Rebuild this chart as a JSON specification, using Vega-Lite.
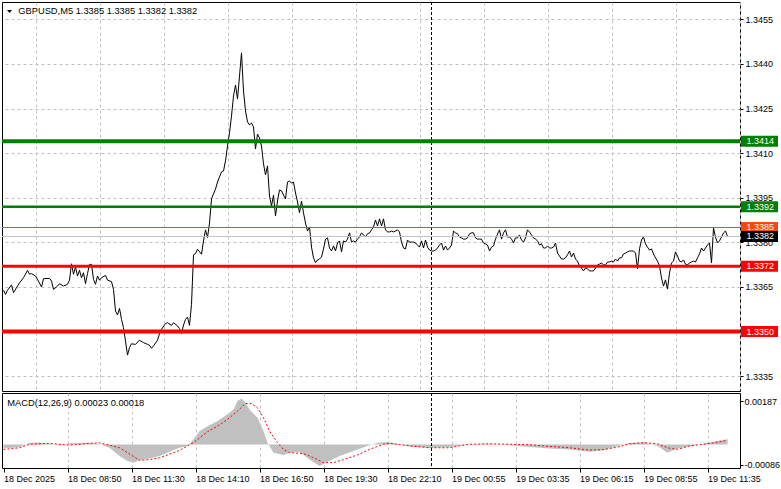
{
  "$schema": "https://vega.github.io/schema/vega-lite/v6.json",
  "padding": {"left": -1, "top": 1, "right": 0, "bottom": 0},
  "background": "#ffffff",
  "spacing": 0,
  "resolve": {"scale": {"x": "independent"}, "axis": {"x": "independent"}},
  "config": {
    "view": {"stroke": "#000000", "strokeWidth": 1},
    "font": "Liberation Sans",
    "axis": {"labelFont": "Liberation Sans", "labelFontSize": 9, "labelColor": "#000000", "tickColor": "#000000", "gridColor": "#c0c0c0", "gridDash": [3, 3], "domain": false, "title": null, "labelOverlap": false, "labelFlush": false}
  },
  "datasets": {
    "price": [
      {"bar":0,"close":1.33639},{"bar":1,"close":1.33625},{"bar":2,"close":1.33639},{"bar":4,"close":1.33657},{"bar":5,"close":1.33631},{"bar":7,"close":1.33653},{"bar":8,"close":1.33664},{"bar":10,"close":1.33681},{"bar":11,"close":1.33693},{"bar":12,"close":1.33706},{"bar":13,"close":1.33693},{"bar":14,"close":1.33695},{"bar":16,"close":1.33687},{"bar":17,"close":1.33676},{"bar":19,"close":1.3365},{"bar":20,"close":1.33678},{"bar":23,"close":1.33679},{"bar":24,"close":1.3367},{"bar":25,"close":1.33642},{"bar":27,"close":1.33653},{"bar":28,"close":1.33661},{"bar":30,"close":1.33653},{"bar":32,"close":1.33659},{"bar":33,"close":1.33673},{"bar":34,"close":1.33728},{"bar":35,"close":1.33693},{"bar":36,"close":1.33717},{"bar":37,"close":1.33687},{"bar":38,"close":1.33706},{"bar":39,"close":1.33681},{"bar":40,"close":1.33698},{"bar":41,"close":1.33661},{"bar":42,"close":1.33695},{"bar":43,"close":1.33726},{"bar":44,"close":1.33726},{"bar":45,"close":1.33676},{"bar":46,"close":1.33659},{"bar":47,"close":1.33687},{"bar":48,"close":1.33673},{"bar":49,"close":1.33681},{"bar":51,"close":1.33689},{"bar":52,"close":1.33673},{"bar":54,"close":1.33668},{"bar":55,"close":1.33642},{"bar":56,"close":1.33569},{"bar":57,"close":1.33556},{"bar":58,"close":1.33578},{"bar":59,"close":1.33541},{"bar":60,"close":1.33513},{"bar":61,"close":1.33468},{"bar":62,"close":1.33421},{"bar":63,"close":1.33446},{"bar":64,"close":1.33459},{"bar":66,"close":1.33457},{"bar":68,"close":1.33471},{"bar":70,"close":1.33463},{"bar":72,"close":1.33457},{"bar":73,"close":1.33454},{"bar":74,"close":1.33444},{"bar":75,"close":1.33452},{"bar":77,"close":1.33471},{"bar":78,"close":1.33493},{"bar":79,"close":1.33508},{"bar":81,"close":1.33527},{"bar":82,"close":1.3353},{"bar":84,"close":1.33521},{"bar":85,"close":1.3353},{"bar":87,"close":1.33519},{"bar":88,"close":1.3351},{"bar":89,"close":1.33493},{"bar":90,"close":1.33522},{"bar":91,"close":1.33541},{"bar":92,"close":1.33549},{"bar":93,"close":1.33521},{"bar":94,"close":1.33592},{"bar":95,"close":1.33758},{"bar":96,"close":1.33762},{"bar":97,"close":1.33777},{"bar":99,"close":1.3376},
      {"bar":100,"close":1.33805},{"bar":101,"close":1.33842},{"bar":102,"close":1.33816},{"bar":103,"close":1.33865},{"bar":104,"close":1.33946},{"bar":105,"close":1.33963},{"bar":106,"close":1.33979},{"bar":107,"close":1.34003},{"bar":108,"close":1.3402},{"bar":109,"close":1.34037},{"bar":110,"close":1.3404},{"bar":111,"close":1.34074},{"bar":112,"close":1.34124},{"bar":113,"close":1.34168},{"bar":114,"close":1.34225},{"bar":115,"close":1.34292},{"bar":116,"close":1.34329},{"bar":117,"close":1.34282},{"bar":118,"close":1.34359},{"bar":119,"close":1.34437},{"bar":120,"close":1.34309},{"bar":121,"close":1.34242},{"bar":122,"close":1.34205},{"bar":123,"close":1.34195},{"bar":124,"close":1.34201},{"bar":125,"close":1.34188},{"bar":126,"close":1.34114},{"bar":127,"close":1.34164},{"bar":128,"close":1.34151},{"bar":129,"close":1.34124},{"bar":130,"close":1.34064},{"bar":131,"close":1.34027},{"bar":132,"close":1.34057},{"bar":133,"close":1.33956},{"bar":134,"close":1.33922},{"bar":135,"close":1.33959},{"bar":136,"close":1.33889},{"bar":137,"close":1.33939},{"bar":138,"close":1.33976},{"bar":139,"close":1.33973},{"bar":140,"close":1.33959},{"bar":141,"close":1.33946},{"bar":142,"close":1.34003},{"bar":143,"close":1.34006},{"bar":144,"close":1.34},{"bar":145,"close":1.34003},{"bar":146,"close":1.33966},{"bar":147,"close":1.33936},{"bar":148,"close":1.33899},{"bar":149,"close":1.33939},{"bar":150,"close":1.33899},{"bar":151,"close":1.33865},{"bar":152,"close":1.33838},{"bar":153,"close":1.33852},{"bar":154,"close":1.33784},{"bar":155,"close":1.33748},{"bar":156,"close":1.33732},{"bar":157,"close":1.33741},{"bar":158,"close":1.33744},{"bar":159,"close":1.33751},{"bar":160,"close":1.33778},{"bar":161,"close":1.33811},{"bar":162,"close":1.33815},{"bar":163,"close":1.33781},{"bar":164,"close":1.33771},{"bar":165,"close":1.33788},{"bar":166,"close":1.33771},{"bar":167,"close":1.33798},{"bar":168,"close":1.33805},{"bar":169,"close":1.33768},{"bar":170,"close":1.33805},{"bar":171,"close":1.33801},{"bar":172,"close":1.33811},{"bar":173,"close":1.33832},{"bar":174,"close":1.33801},{"bar":175,"close":1.33805},{"bar":176,"close":1.33801},{"bar":177,"close":1.33811},{"bar":178,"close":1.33818},{"bar":179,"close":1.33832},{"bar":180,"close":1.33825},{"bar":181,"close":1.33818},{"bar":182,"close":1.33829},{"bar":183,"close":1.33832},{"bar":184,"close":1.33842},{"bar":185,"close":1.33852},{"bar":186,"close":1.33875},{"bar":187,"close":1.33855},{"bar":188,"close":1.33879},{"bar":189,"close":1.33855},{"bar":190,"close":1.33879},{"bar":191,"close":1.33842},{"bar":192,"close":1.33835},{"bar":193,"close":1.33835},{"bar":194,"close":1.33838},{"bar":195,"close":1.33835},{"bar":196,"close":1.33838},{"bar":197,"close":1.33842},{"bar":198,"close":1.33835},{"bar":199,"close":1.33801},
      {"bar":200,"close":1.33781},{"bar":201,"close":1.33778},{"bar":202,"close":1.33808},{"bar":203,"close":1.33801},{"bar":204,"close":1.33801},{"bar":205,"close":1.33801},{"bar":206,"close":1.33798},{"bar":207,"close":1.33791},{"bar":208,"close":1.33784},{"bar":209,"close":1.33805},{"bar":210,"close":1.33781},{"bar":211,"close":1.33808},{"bar":212,"close":1.33784},{"bar":213,"close":1.33774},{"bar":214,"close":1.33771},{"bar":215,"close":1.33771},{"bar":216,"close":1.33774},{"bar":217,"close":1.33781},{"bar":218,"close":1.33791},{"bar":219,"close":1.33798},{"bar":220,"close":1.33774},{"bar":221,"close":1.33788},{"bar":222,"close":1.33774},{"bar":223,"close":1.33781},{"bar":224,"close":1.33791},{"bar":225,"close":1.33838},{"bar":226,"close":1.33832},{"bar":227,"close":1.33829},{"bar":228,"close":1.33818},{"bar":229,"close":1.33815},{"bar":230,"close":1.33811},{"bar":231,"close":1.33811},{"bar":232,"close":1.33815},{"bar":233,"close":1.33829},{"bar":234,"close":1.33832},{"bar":235,"close":1.33832},{"bar":236,"close":1.33815},{"bar":237,"close":1.33811},{"bar":238,"close":1.33811},{"bar":239,"close":1.33811},{"bar":240,"close":1.33798},{"bar":241,"close":1.33795},{"bar":242,"close":1.33791},{"bar":243,"close":1.33771},{"bar":244,"close":1.33784},{"bar":245,"close":1.33788},{"bar":246,"close":1.33811},{"bar":247,"close":1.33828},{"bar":248,"close":1.33842},{"bar":249,"close":1.33811},{"bar":250,"close":1.33832},{"bar":251,"close":1.33842},{"bar":252,"close":1.33818},{"bar":253,"close":1.33818},{"bar":254,"close":1.33811},{"bar":255,"close":1.33798},{"bar":256,"close":1.33815},{"bar":257,"close":1.33815},{"bar":258,"close":1.33825},{"bar":259,"close":1.33808},{"bar":260,"close":1.33801},{"bar":261,"close":1.33815},{"bar":262,"close":1.33842},{"bar":263,"close":1.33835},{"bar":264,"close":1.33825},{"bar":265,"close":1.33815},{"bar":266,"close":1.33811},{"bar":267,"close":1.33805},{"bar":268,"close":1.33791},{"bar":269,"close":1.33795},{"bar":270,"close":1.33781},{"bar":271,"close":1.33781},{"bar":272,"close":1.33788},{"bar":273,"close":1.33781},{"bar":274,"close":1.33781},{"bar":275,"close":1.33784},{"bar":276,"close":1.33798},{"bar":277,"close":1.33764},{"bar":278,"close":1.33754},{"bar":279,"close":1.33744},{"bar":280,"close":1.33744},{"bar":281,"close":1.33748},{"bar":282,"close":1.33758},{"bar":283,"close":1.33771},{"bar":284,"close":1.33751},{"bar":285,"close":1.33764},{"bar":286,"close":1.33744},{"bar":287,"close":1.33737},{"bar":288,"close":1.33721},{"bar":289,"close":1.33714},{"bar":290,"close":1.33704},{"bar":291,"close":1.33714},{"bar":292,"close":1.33711},{"bar":293,"close":1.33704},{"bar":294,"close":1.33704},{"bar":295,"close":1.33704},{"bar":296,"close":1.33714},{"bar":297,"close":1.33724},{"bar":298,"close":1.33727},{"bar":299,"close":1.33731},
      {"bar":300,"close":1.33724},{"bar":301,"close":1.33724},{"bar":302,"close":1.33734},{"bar":303,"close":1.33734},{"bar":304,"close":1.33737},{"bar":305,"close":1.33734},{"bar":306,"close":1.33744},{"bar":307,"close":1.33737},{"bar":308,"close":1.33748},{"bar":309,"close":1.33748},{"bar":310,"close":1.33761},{"bar":311,"close":1.33764},{"bar":312,"close":1.33768},{"bar":313,"close":1.33771},{"bar":314,"close":1.33771},{"bar":315,"close":1.33771},{"bar":316,"close":1.33764},{"bar":317,"close":1.33711},{"bar":318,"close":1.33778},{"bar":319,"close":1.33808},{"bar":320,"close":1.33818},{"bar":321,"close":1.33795},{"bar":322,"close":1.33784},{"bar":323,"close":1.33774},{"bar":324,"close":1.33778},{"bar":325,"close":1.33761},{"bar":326,"close":1.33748},{"bar":327,"close":1.33737},{"bar":328,"close":1.33721},{"bar":329,"close":1.3368},{"bar":330,"close":1.33653},{"bar":331,"close":1.33674},{"bar":332,"close":1.33643},{"bar":333,"close":1.33697},{"bar":334,"close":1.33731},{"bar":335,"close":1.33737},{"bar":336,"close":1.33768},{"bar":337,"close":1.33754},{"bar":338,"close":1.33737},{"bar":339,"close":1.33734},{"bar":340,"close":1.33741},{"bar":341,"close":1.33727},{"bar":342,"close":1.33724},{"bar":343,"close":1.33731},{"bar":344,"close":1.33734},{"bar":345,"close":1.33737},{"bar":346,"close":1.33734},{"bar":347,"close":1.33748},{"bar":348,"close":1.33761},{"bar":349,"close":1.33781},{"bar":350,"close":1.33771},{"bar":351,"close":1.33781},{"bar":352,"close":1.33791},{"bar":353,"close":1.33798},{"bar":354,"close":1.33731},{"bar":355,"close":1.33848},{"bar":356,"close":1.33818},{"bar":357,"close":1.33798},{"bar":358,"close":1.33805},{"bar":359,"close":1.33818},{"bar":360,"close":1.33832},{"bar":361,"close":1.33838},{"bar":362,"close":1.3382}
    ],
    "macd": [
      {"bar":0,"macd":-0.00014},{"bar":3,"macd":-0.00015},{"bar":8,"macd":-0.00011},{"bar":13,"macd":0.00007},{"bar":18,"macd":0.00009},{"bar":23,"macd":0.00003},{"bar":28,"macd":-0.00004},{"bar":33,"macd":0.00005},{"bar":38,"macd":0.00007},{"bar":43,"macd":0.00008},{"bar":48,"macd":0.00001},{"bar":53,"macd":-0.00014},{"bar":58,"macd":-0.00049},{"bar":62,"macd":-0.00071},{"bar":65,"macd":-0.00078},{"bar":68,"macd":-0.00068},{"bar":73,"macd":-0.0006},{"bar":78,"macd":-0.00049},{"bar":83,"macd":-0.00031},{"bar":88,"macd":-0.00014},{"bar":92,"macd":-0.00006},{"bar":95,"macd":0.00022},{"bar":98,"macd":0.00058},{"bar":102,"macd":0.00079},{"bar":107,"macd":0.00101},{"bar":112,"macd":0.0013},{"bar":115,"macd":0.00151},{"bar":117,"macd":0.00187},{"bar":119,"macd":0.00198},{"bar":121,"macd":0.0018},{"bar":123,"macd":0.00151},{"bar":127,"macd":0.00115},{"bar":130,"macd":0.00058},{"bar":132,"macd":0.00008},{"bar":135,"macd":-0.00035},{"bar":140,"macd":-0.00045},{"bar":143,"macd":-0.00035},{"bar":148,"macd":-0.00032},{"bar":153,"macd":-0.00064},{"bar":158,"macd":-0.00092},{"bar":163,"macd":-0.00071},{"bar":168,"macd":-0.00049},{"bar":175,"macd":-0.00028},{"bar":182,"macd":-0.00006},{"bar":187,"macd":0.00008},{"bar":192,"macd":0.00011},{"bar":198,"macd":0.00001},{"bar":203,"macd":-0.00009},{"bar":213,"macd":-0.00014},{"bar":223,"macd":-0.00011},{"bar":233,"macd":0.00001},{"bar":243,"macd":0.00003},{"bar":253,"macd":-0.00003},{"bar":263,"macd":-0.00011},{"bar":273,"macd":-0.00017},{"bar":283,"macd":-0.00021},{"bar":293,"macd":-0.00031},{"bar":300,"macd":-0.00025},{"bar":307,"macd":-0.00006},{"bar":313,"macd":0.00007},{"bar":320,"macd":0.00009},{"bar":327,"macd":-0.00006},{"bar":332,"macd":-0.00035},{"bar":337,"macd":-0.00017},{"bar":343,"macd":-0.00008},{"bar":350,"macd":0.00003},{"bar":355,"macd":0.00012},{"bar":360,"macd":0.0002},{"bar":362,"macd":0.00023}
    ],
    "signal": [
      {"bar":0,"signal":-0.00021},{"bar":8,"signal":-0.00014},{"bar":13,"signal":0.00001},{"bar":23,"signal":0.00005},{"bar":33,"signal":-0.00003},{"bar":43,"signal":0.00005},{"bar":48,"signal":0.00007},{"bar":53,"signal":-0.00003},{"bar":58,"signal":-0.00014},{"bar":62,"signal":-0.00035},{"bar":68,"signal":-0.00068},{"bar":73,"signal":-0.00065},{"bar":78,"signal":-0.00057},{"bar":83,"signal":-0.00042},{"bar":88,"signal":-0.00025},{"bar":95,"signal":0.00008},{"bar":102,"signal":0.00055},{"bar":107,"signal":0.00079},{"bar":112,"signal":0.00108},{"bar":117,"signal":0.00144},{"bar":121,"signal":0.00176},{"bar":124,"signal":0.00176},{"bar":127,"signal":0.00158},{"bar":130,"signal":0.00115},{"bar":133,"signal":0.00058},{"bar":137,"signal":0.00008},{"bar":140,"signal":-0.00021},{"bar":143,"signal":-0.00035},{"bar":150,"signal":-0.00039},{"bar":155,"signal":-0.00057},{"bar":160,"signal":-0.00078},{"bar":165,"signal":-0.00078},{"bar":170,"signal":-0.00065},{"bar":177,"signal":-0.00045},{"bar":183,"signal":-0.00021},{"bar":190,"signal":0.00001},{"bar":193,"signal":0.00005},{"bar":203,"signal":-0.00006},{"bar":213,"signal":-0.00014},{"bar":223,"signal":-0.00014},{"bar":228,"signal":-0.00006},{"bar":233,"signal":0.00001},{"bar":243,"signal":0.00003},{"bar":253,"signal":0.00001},{"bar":263,"signal":-0.00001},{"bar":273,"signal":-0.00008},{"bar":283,"signal":-0.00014},{"bar":293,"signal":-0.00024},{"bar":300,"signal":-0.00022},{"bar":307,"signal":-0.00011},{"bar":313,"signal":0.00003},{"bar":320,"signal":0.00008},{"bar":327,"signal":0.00003},{"bar":332,"signal":-0.00014},{"bar":337,"signal":-0.00021},{"bar":343,"signal":-0.00006},{"bar":350,"signal":0.00001},{"bar":355,"signal":0.00007},{"bar":362,"signal":0.00018}
    ],
    "levels": [
      {"name":"R2","price":1.3414},{"name":"R1","price":1.3392},{"name":"Ask","price":1.3385},{"name":"Bid","price":1.3382},{"name":"S1","price":1.3372},{"name":"S2","price":1.335}
    ],
    "separator": [{"bar": 214}],
    "header": [{"symbol": "GBPUSD,M5  1.3385 1.3385 1.3382 1.3382", "macdLabel": "MACD(12,26,9) 0.00023 0.00018"}]
  },
  "vconcat": [
    {
      "width": 738,
      "height": 389,
      "layer": [
        {
          "data": {"name": "price"},
          "mark": {"type": "line", "color": "#000000", "strokeWidth": 1},
          "encoding": {
            "x": {"field": "bar", "type": "quantitative", "scale": {"domain": [-0.75, 368.25], "nice": false, "zero": false},
              "axis": {"orient": "bottom", "values": [16,32,48,64,80,96,112,128,144,160,176,192,208,224,240,256,272,288,304,320,336,352,368], "labels": false, "ticks": false, "grid": true, "minExtent": 0, "maxExtent": 0, "offset": 0}},
            "y": {"field": "close", "type": "quantitative", "scale": {"domain": [1.333003, 1.346081], "nice": false, "zero": false},
              "axis": {"orient": "right", "values": [1.3335, 1.335, 1.3365, 1.338, 1.3395, 1.341, 1.3425, 1.344, 1.3455], "format": ".4f", "tickSize": 3, "labelPadding": 2, "grid": true}}
          }
        },
        {
          "data": {"name": "separator"},
          "mark": {"type": "rule", "color": "#000000", "strokeWidth": 1, "strokeDash": [3, 2]},
          "encoding": {"x": {"field": "bar", "type": "quantitative"}}
        },
        {
          "data": {"name": "levels"},
          "transform": [{"filter": "datum.name === 'Bid'"}],
          "mark": {"type": "rule", "color": "#c0c0c0", "strokeWidth": 1},
          "encoding": {"y": {"field": "price", "type": "quantitative"}}
        },
        {
          "data": {"name": "levels"},
          "transform": [{"filter": "datum.name === 'Ask'"}],
          "mark": {"type": "rule", "color": "#ff4500", "strokeWidth": 1},
          "encoding": {"y": {"field": "price", "type": "quantitative"}}
        },
        {
          "data": {"name": "levels"},
          "transform": [{"filter": "datum.name === 'R1'"}],
          "mark": {"type": "rule", "color": "#008000", "strokeWidth": 2.5},
          "encoding": {"y": {"field": "price", "type": "quantitative"}}
        },
        {
          "data": {"name": "levels"},
          "transform": [{"filter": "datum.name === 'R2'"}],
          "mark": {"type": "rule", "color": "#008000", "strokeWidth": 4},
          "encoding": {"y": {"field": "price", "type": "quantitative"}}
        },
        {
          "data": {"name": "levels"},
          "transform": [{"filter": "datum.name === 'S1'"}],
          "mark": {"type": "rule", "color": "#ff0000", "strokeWidth": 3},
          "encoding": {"y": {"field": "price", "type": "quantitative"}}
        },
        {
          "data": {"name": "levels"},
          "transform": [{"filter": "datum.name === 'S2'"}],
          "mark": {"type": "rule", "color": "#ff0000", "strokeWidth": 4},
          "encoding": {"y": {"field": "price", "type": "quantitative"}}
        },
        {
          "data": {"name": "levels"},
          "mark": {"type": "rule", "strokeWidth": 11, "strokeCap": "butt"},
          "encoding": {
            "x": {"datum": 368.75},
            "x2": {"datum": 387.25},
            "y": {"field": "price", "type": "quantitative"},
            "color": {"field": "name", "type": "nominal", "scale": {"domain": ["R2","R1","Ask","Bid","S1","S2"], "range": ["#008000","#008000","#ff4500","#000000","#ff0000","#ff0000"]}, "legend": null}
          }
        },
        {
          "data": {"name": "levels"},
          "mark": {"type": "text", "align": "left", "baseline": "middle", "fill": "#ffffff", "fontSize": 9, "font": "Liberation Sans"},
          "encoding": {
            "x": {"datum": 371.5},
            "y": {"field": "price", "type": "quantitative"},
            "text": {"field": "price", "type": "quantitative", "format": ".4f"}
          }
        },
        {
          "data": {"name": "header"},
          "mark": {"type": "point", "shape": "M-1,-0.6L1,-0.6L0,0.6Z", "size": 25, "filled": true, "color": "#000000", "opacity": 1},
          "encoding": {"x": {"datum": 3}, "y": {"datum": 1.34576}}
        },
        {
          "data": {"name": "header"},
          "mark": {"type": "text", "align": "left", "baseline": "middle", "fill": "#000000", "fontSize": 9.3, "font": "Liberation Sans"},
          "encoding": {"x": {"datum": 7.4}, "y": {"datum": 1.34578}, "text": {"field": "symbol"}}
        }
      ]
    },
    {
      "width": 738,
      "height": 75,
      "layer": [
        {
          "data": {"name": "macd"},
          "mark": {"type": "area", "color": "#c0c0c0", "opacity": 1},
          "encoding": {
            "x": {"field": "bar", "type": "quantitative", "scale": {"domain": [-0.75, 368.25], "nice": false, "zero": false},
              "axis": {"orient": "bottom", "values": [0,16,32,48,64,80,96,112,128,144,160,176,192,208,224,240,256,272,288,304,320,336,352,368], "grid": true,
                "gridOpacity": {"condition": {"test": "datum.value > 0", "value": 1}, "value": 0},
                "tickSize": 4, "tickOpacity": {"condition": {"test": "datum.value % 32 === 0 && datum.value <= 352", "value": 1}, "value": 0},
                "labelAlign": "left", "labelBaseline": "top", "labelPadding": 2,
                "labelExpr": "(datum.value % 32 === 0 && datum.value <= 352) ? ['18 Dec 2025','18 Dec 08:50','18 Dec 11:30','18 Dec 14:10','18 Dec 16:50','18 Dec 19:30','18 Dec 22:10','19 Dec 00:55','19 Dec 03:35','19 Dec 06:15','19 Dec 08:55','19 Dec 11:35'][datum.value / 32] : ''"}},
            "y": {"field": "macd", "type": "quantitative", "scale": {"domain": [-0.00101, 0.002214], "nice": false, "zero": false},
              "axis": {"orient": "right", "values": [-0.00086, 0, 0.00187], "tickSize": 3, "labelPadding": 1, "grid": true,
                "gridOpacity": {"condition": {"test": "datum.value === 0", "value": 1}, "value": 0},
                "labelExpr": "datum.value > 0.001 ? '0.00187' : (datum.value < 0 ? '-0.00086' : '0.00')"}},
            "y2": {"datum": 0}
          }
        },
        {
          "data": {"name": "signal"},
          "mark": {"type": "line", "color": "#ff0000", "strokeWidth": 1, "strokeDash": [2, 2]},
          "encoding": {
            "x": {"field": "bar", "type": "quantitative"},
            "y": {"field": "signal", "type": "quantitative"}
          }
        },
        {
          "data": {"name": "separator"},
          "mark": {"type": "rule", "color": "#000000", "strokeWidth": 1, "strokeDash": [3, 2]},
          "encoding": {"x": {"field": "bar", "type": "quantitative"}}
        },
        {
          "data": {"name": "header"},
          "mark": {"type": "text", "align": "left", "baseline": "middle", "fill": "#000000", "fontSize": 9.3, "font": "Liberation Sans"},
          "encoding": {"x": {"datum": 1.9}, "y": {"datum": 0.0018}, "text": {"field": "macdLabel"}}
        }
      ]
    }
  ]
}
